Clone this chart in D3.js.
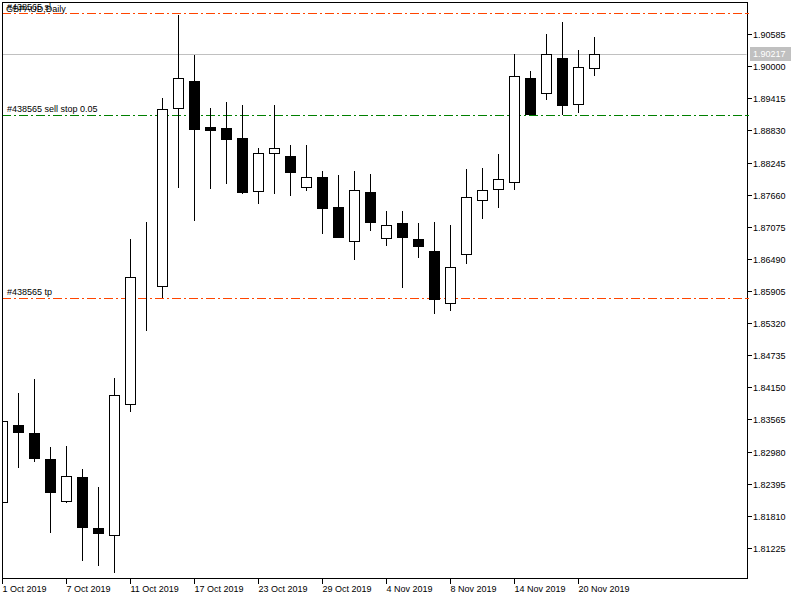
<!DOCTYPE html>
<html><head><meta charset="utf-8">
<script src="https://cdn.jsdelivr.net/npm/d3@7"></script>
<style>body{margin:0;background:#fff}svg{display:block}text{font-family:"Liberation Sans",Arial,sans-serif;font-size:9px;fill:#000}</style>
</head><body><svg id="c" width="800" height="600"></svg>
<script>
const dates = ["2019-10-01","2019-10-02","2019-10-03","2019-10-04","2019-10-07","2019-10-08","2019-10-09","2019-10-10","2019-10-11","2019-10-14","2019-10-15","2019-10-16","2019-10-17","2019-10-18","2019-10-21","2019-10-22","2019-10-23","2019-10-24","2019-10-25","2019-10-28","2019-10-29","2019-10-30","2019-10-31","2019-11-01","2019-11-04","2019-11-05","2019-11-06","2019-11-07","2019-11-08","2019-11-11","2019-11-12","2019-11-13","2019-11-14","2019-11-15","2019-11-18","2019-11-19","2019-11-20","2019-11-21"];
const open  = [1.82057,1.83459,1.83319,1.82846,1.82075,1.82518,1.81589,1.81456,1.83842,1.85960,1.86002,1.89243,1.89729,1.88891,1.88868,1.88686,1.87721,1.88413,1.88363,1.87793,1.87981,1.87435,1.86810,1.87708,1.86865,1.87138,1.86846,1.86628,1.85681,1.86573,1.87557,1.87757,1.87895,1.89778,1.89505,1.90142,1.89305,1.89960];
const high  = [1.83592,1.84048,1.84303,1.83064,1.83082,1.82664,1.82336,1.84315,1.86852,1.87162,1.89414,1.90931,1.90197,1.89237,1.89347,1.89292,1.88509,1.89292,1.88564,1.88564,1.88090,1.88017,1.88090,1.88036,1.87362,1.87362,1.87143,1.87162,1.87107,1.88127,1.88145,1.88400,1.90221,1.89911,1.90585,1.90804,1.90294,1.90530];
const low   = [1.82008,1.82687,1.82797,1.81504,1.82050,1.80994,1.80903,1.80764,1.83702,1.85182,1.85783,1.87786,1.87185,1.87768,1.87859,1.87677,1.87495,1.87677,1.87640,1.87732,1.86948,1.86876,1.86475,1.87003,1.86730,1.85965,1.86511,1.85481,1.85546,1.86402,1.87222,1.87422,1.87750,1.89128,1.89389,1.89115,1.89152,1.89826];
const close = [1.83532,1.83343,1.82864,1.82250,1.82531,1.81613,1.81504,1.84011,1.86155,1.85962,1.89214,1.89778,1.88861,1.88842,1.88678,1.87713,1.88413,1.88504,1.88077,1.87976,1.87422,1.86894,1.87744,1.87167,1.87101,1.86894,1.86730,1.85759,1.86337,1.87611,1.87739,1.87939,1.89815,1.89134,1.90215,1.89298,1.89979,1.90217];
const yTickLabels = ["1.90585","1.90000","1.89415","1.88830","1.88245","1.87660","1.87075","1.86490","1.85905","1.85320","1.84735","1.84150","1.83565","1.82980","1.82395","1.81810","1.81225"];
const xTickLabels = ["1 Oct 2019","7 Oct 2019","11 Oct 2019","17 Oct 2019","23 Oct 2019","29 Oct 2019","4 Nov 2019","8 Nov 2019","14 Nov 2019","20 Nov 2019"];
const xTickDates = ["2019-10-01","2019-10-07","2019-10-11","2019-10-17","2019-10-23","2019-10-29","2019-11-04","2019-11-08","2019-11-14","2019-11-20"];
const levelNames = ["#438565 sl","#438565 sell stop 0.05","#438565 tp"];
const levelValues = [1.90967,1.89110,1.85778];
const levelColors = ["#ff4500","#008000","#ff4500"];
const title = "GBPAUD,Daily";
const lastPrice = 1.90217;

const L=2, R=747, T=2, B=578;
const svg = d3.select("#c");
const x = d3.scaleLinear().domain([0, dates.length-1]).range([2, 2+16*(dates.length-1)]);
const y = d3.scaleLinear().domain([+yTickLabels[yTickLabels.length-1], +yTickLabels[0]]).range([548, 34]);

svg.append("defs").append("clipPath").attr("id","clip").append("rect")
  .attr("x",L+0.5).attr("y",T+0.5).attr("width",R-L-1).attr("height",B-T-1);

const plot = svg.append("g").attr("clip-path","url(#clip)");

// last price line
plot.append("line").attr("x1",L).attr("x2",R).attr("y1",Math.round(y(lastPrice))+0.5).attr("y2",Math.round(y(lastPrice))+0.5)
  .attr("stroke","#c0c0c0").attr("stroke-width",1);

// order levels
levelValues.forEach((v,i)=>{
  const yy = Math.round(y(v))+0.5;
  plot.append("line").attr("x1",L).attr("x2",R).attr("y1",yy).attr("y2",yy)
    .attr("stroke",levelColors[i]).attr("stroke-width",1).attr("stroke-dasharray","9,3,2,3");
});

// candles
const idx = d3.range(dates.length);
const cg = plot.append("g");
cg.selectAll("line.w").data(idx).join("line").attr("class","w")
  .attr("x1",i=>Math.round(x(i))+0.5).attr("x2",i=>Math.round(x(i))+0.5)
  .attr("y1",i=>Math.round(y(high[i]))).attr("y2",i=>Math.round(y(low[i])))
  .attr("stroke","#000").attr("stroke-width",1);
cg.selectAll("rect.b").data(idx).join("rect").attr("class","b")
  .attr("x",i=>Math.round(x(i))-4.5).attr("width",10)
  .attr("y",i=>Math.round(y(Math.max(open[i],close[i])))+0.5)
  .attr("height",i=>Math.max(0,Math.round(y(Math.min(open[i],close[i])))-Math.round(y(Math.max(open[i],close[i])))))
  .attr("fill",i=>close[i]>=open[i]?"#fff":"#000")
  .attr("stroke","#000").attr("stroke-width",1);

// level labels
levelValues.forEach((v,i)=>{
  svg.append("text").attr("x",7).attr("y",Math.round(y(v))-3).text(levelNames[i]);
});
svg.append("text").attr("x",6).attr("y",12).text(title);

// frame
svg.append("rect").attr("x",L+0.5).attr("y",T+0.5).attr("width",R-L).attr("height",B-T)
  .attr("fill","none").attr("stroke","#000").attr("stroke-width",1);

// y axis
const yAxis = svg.append("g");
yTickLabels.forEach(t=>{
  const yy = Math.round(y(+t))+0.5;
  yAxis.append("line").attr("x1",R+0.5).attr("x2",R+5).attr("y1",yy).attr("y2",yy).attr("stroke","#000");
  yAxis.append("text").attr("x",R+6).attr("y",yy).attr("dy","0.35em").text(t);
});
// level markers on axis
levelValues.forEach((v,i)=>{
  const yy = Math.round(y(v))+0.5;
  yAxis.append("line").attr("x1",R-1).attr("x2",R+2).attr("y1",yy).attr("y2",yy).attr("stroke",levelColors[i]);
});
// last price badge
const ly = Math.round(y(lastPrice));
yAxis.append("rect").attr("x",R+3).attr("y",ly-7).attr("width",41).attr("height",14).attr("fill","#c0c0c0");
yAxis.append("text").attr("x",R+6).attr("y",ly).attr("dy","0.35em").style("fill","#fff").text(lastPrice.toFixed(5));

// x axis
const xAxis = svg.append("g");
xTickDates.forEach((d,k)=>{
  const i = dates.indexOf(d);
  const xx = Math.round(x(i))+0.5;
  xAxis.append("line").attr("x1",xx).attr("x2",xx).attr("y1",B).attr("y2",B+6).attr("stroke","#000");
  xAxis.append("text").attr("x",xx).attr("y",B+14).text(xTickLabels[k]);
});
</script></body></html>
